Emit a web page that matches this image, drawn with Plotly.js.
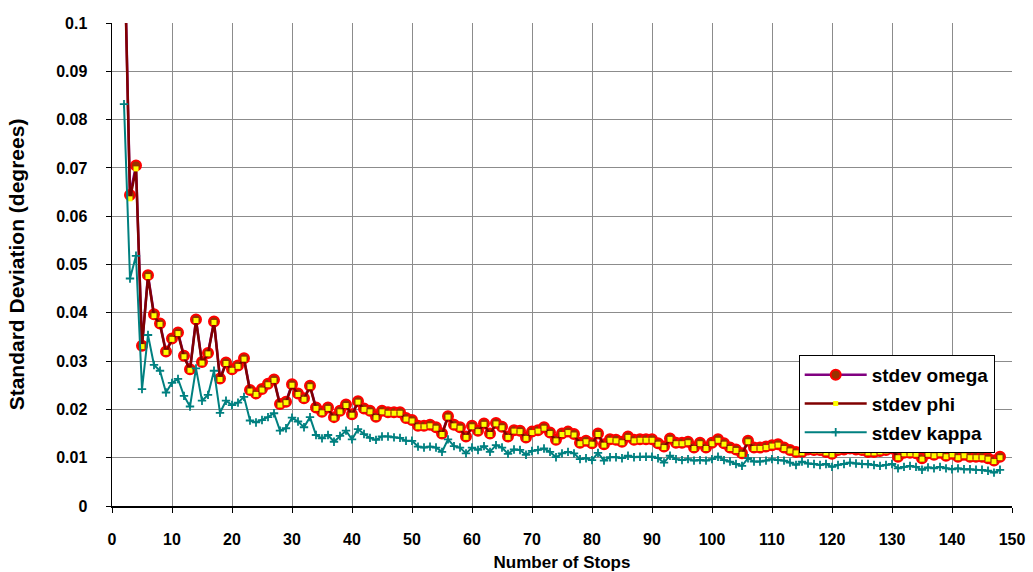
<!DOCTYPE html>
<html>
<head>
<meta charset="utf-8">
<script src="https://cdn.plot.ly/plotly-3.0.1.min.js"></script>
<style>
html,body{margin:0;padding:0;background:#fff;}
#chart{width:1033px;height:572px;}
</style>
</head>
<body>
<div id="chart"></div>
<script>
// Number of stops (x), 2..148
const stops = [];
for (let s = 2; s <= 148; s++) stops.push(s);

const stdevOmega = [
0.1200,0.0644,0.0705,0.0332,0.0478,0.0397,0.0378,0.0320,0.0347,
0.0359,0.0311,0.0283,0.0386,0.0298,0.0317,0.0382,0.0264,0.0297,0.0283,
0.0291,0.0306,0.0240,0.0233,0.0242,0.0253,0.0262,0.0211,0.0216,0.0252,
0.0233,0.0223,0.0249,0.0204,0.0195,0.0204,0.0184,0.0197,0.0210,0.0190,
0.0217,0.0202,0.0197,0.0185,0.0197,0.0194,0.0194,0.0194,0.0182,0.0178,
0.0166,0.0166,0.0168,0.0163,0.0150,0.0186,0.0168,0.0163,0.0144,0.0166,
0.0156,0.0171,0.0150,0.0172,0.0164,0.0144,0.0157,0.0156,0.0142,0.0154,
0.0157,0.0163,0.0152,0.0137,0.0150,0.0154,0.0149,0.0131,0.0135,0.0130,
0.0150,0.0128,0.0138,0.0137,0.0133,0.0144,0.0137,0.0138,0.0138,0.0138,
0.0130,0.0123,0.0140,0.0131,0.0131,0.0133,0.0121,0.0131,0.0121,0.0131,
0.0138,0.0130,0.0121,0.0117,0.0109,0.0135,0.0121,0.0121,0.0123,0.0126,
0.0128,0.0121,0.0116,0.0112,0.0112,0.0117,0.0116,0.0116,0.0112,0.0108,
0.0116,0.0117,0.0119,0.0117,0.0116,0.0112,0.0112,0.0114,0.0116,0.0119,
0.0102,0.0110,0.0110,0.0109,0.0099,0.0109,0.0106,0.0110,0.0104,0.0108,
0.0102,0.0106,0.0102,0.0102,0.0102,0.0099,0.0094,0.0102
];

const stdevPhi = [
0.1190,0.0636,0.0698,0.0330,0.0475,0.0394,0.0376,0.0318,0.0345,
0.0357,0.0309,0.0281,0.0384,0.0296,0.0315,0.0380,0.0262,0.0295,0.0281,
0.0289,0.0304,0.0238,0.0231,0.0240,0.0251,0.0260,0.0209,0.0214,0.0250,
0.0231,0.0221,0.0247,0.0202,0.0193,0.0202,0.0182,0.0195,0.0208,0.0188,
0.0215,0.0200,0.0195,0.0183,0.0195,0.0192,0.0192,0.0192,0.0180,0.0176,
0.0164,0.0164,0.0166,0.0161,0.0148,0.0184,0.0166,0.0161,0.0142,0.0164,
0.0154,0.0169,0.0148,0.0170,0.0162,0.0142,0.0155,0.0154,0.0140,0.0152,
0.0155,0.0161,0.0150,0.0135,0.0148,0.0152,0.0147,0.0129,0.0133,0.0128,
0.0148,0.0126,0.0136,0.0135,0.0131,0.0142,0.0135,0.0136,0.0136,0.0136,
0.0128,0.0121,0.0138,0.0129,0.0129,0.0131,0.0119,0.0129,0.0119,0.0129,
0.0136,0.0128,0.0119,0.0115,0.0107,0.0133,0.0119,0.0119,0.0121,0.0124,
0.0126,0.0119,0.0114,0.0110,0.0110,0.0115,0.0114,0.0114,0.0110,0.0106,
0.0114,0.0115,0.0117,0.0115,0.0114,0.0110,0.0110,0.0112,0.0114,0.0117,
0.0100,0.0108,0.0108,0.0107,0.0097,0.0107,0.0104,0.0108,0.0102,0.0106,
0.0100,0.0104,0.0100,0.0100,0.0100,0.0097,0.0092,0.0100
];

const stdevKappa = [
0.0832,0.0471,0.0518,0.0242,0.0354,0.0292,0.0280,0.0235,0.0255,
0.0263,0.0228,0.0206,0.0285,0.0218,0.0230,0.0280,0.0193,0.0218,0.0209,
0.0214,0.0226,0.0177,0.0173,0.0178,0.0184,0.0192,0.0156,0.0161,0.0183,
0.0175,0.0163,0.0184,0.0147,0.0140,0.0147,0.0133,0.0145,0.0156,0.0138,
0.0159,0.0149,0.0141,0.0137,0.0144,0.0144,0.0142,0.0141,0.0135,0.0135,
0.0123,0.0121,0.0123,0.0121,0.0112,0.0138,0.0124,0.0121,0.0109,0.0121,
0.0116,0.0124,0.0112,0.0126,0.0121,0.0108,0.0117,0.0116,0.0106,0.0114,
0.0116,0.0119,0.0112,0.0101,0.0109,0.0112,0.0109,0.0097,0.0099,0.0095,
0.0110,0.0094,0.0101,0.0101,0.0099,0.0104,0.0101,0.0102,0.0102,0.0102,
0.0099,0.0090,0.0104,0.0097,0.0095,0.0097,0.0094,0.0095,0.0094,0.0097,
0.0102,0.0095,0.0092,0.0087,0.0083,0.0099,0.0092,0.0092,0.0094,0.0097,
0.0095,0.0094,0.0090,0.0085,0.0092,0.0088,0.0087,0.0085,0.0087,0.0081,
0.0085,0.0087,0.0090,0.0088,0.0087,0.0087,0.0085,0.0083,0.0085,0.0087,
0.0078,0.0081,0.0083,0.0081,0.0075,0.0080,0.0078,0.0081,0.0078,0.0076,
0.0078,0.0076,0.0076,0.0075,0.0075,0.0073,0.0069,0.0075
];

const seriesNames = ['stdev omega', 'stdev phi', 'stdev kappa'];
const xTickVals = [0,10,20,30,40,50,60,70,80,90,100,110,120,130,140,150];
const yTickVals = [0,0.01,0.02,0.03,0.04,0.05,0.06,0.07,0.08,0.09,0.1];
const yTickText = ['0','0.01','0.02','0.03','0.04','0.05','0.06','0.07','0.08','0.09','0.1'];

const FONT = 'Liberation Sans, Arial, sans-serif';

const traces = [
  {
    x: stops, y: stdevOmega, name: seriesNames[0], type: 'scatter', mode: 'lines+markers',
    legendgroup: 'a',
    line: {color: '#800080', width: 2.5},
    marker: {symbol: 'circle', size: 10, color: '#993300', line: {color: '#ff0000', width: 2}},
    cliponaxis: true
  },
  {
    x: stops, y: stdevPhi, name: seriesNames[1], type: 'scatter', mode: 'lines+markers',
    legendgroup: 'b',
    line: {color: '#800000', width: 2.5},
    marker: {symbol: 'square', size: 5, color: '#ffff00', line: {width: 0}},
    cliponaxis: true
  },
  {
    x: stops, y: stdevKappa, name: seriesNames[2], type: 'scatter', mode: 'lines+markers',
    legendgroup: 'c',
    line: {color: '#008080', width: 2},
    marker: {symbol: 'cross-thin', size: 6, color: '#008080', line: {color: '#008080', width: 1.8}},
    cliponaxis: true
  }
];

const layout = {
  width: 1033, height: 572,
  margin: {l: 112, r: 21, t: 23, b: 66, pad: 0},
  paper_bgcolor: '#ffffff', plot_bgcolor: '#ffffff',
  font: {family: FONT, size: 16, color: '#000'},
  showlegend: true,
  legend: {
    x: 0.763, y: 0.3126, xanchor: 'left', yanchor: 'top',
    bgcolor: '#ffffff', bordercolor: '#000000', borderwidth: 1,
    font: {family: FONT, size: 19, weight: 'bold', color: '#000'},
    traceorder: 'grouped', tracegroupgap: 1, itemwidth: 62
  },
  xaxis: {
    range: [0, 150], tickvals: xTickVals, ticktext: xTickVals.map(String),
    showgrid: true, gridcolor: '#8c8c8c', gridwidth: 1,
    showline: true, linecolor: '#000', linewidth: 1.5,
    ticks: 'outside', ticklen: 5, tickcolor: '#000',
    ticklabelstandoff: 13,
    tickfont: {family: FONT, size: 16, weight: 'bold'},
    zeroline: false,
    title: {text: 'Number of Stops', font: {family: FONT, size: 17, weight: 'bold'}, standoff: 9}
  },
  yaxis: {
    range: [0, 0.1], tickvals: yTickVals, ticktext: yTickText,
    showgrid: true, gridcolor: '#8c8c8c', gridwidth: 1,
    showline: true, linecolor: '#000', linewidth: 1.5,
    ticks: 'outside', ticklen: 5, tickcolor: '#000',
    ticklabelstandoff: 15,
    tickfont: {family: FONT, size: 16, weight: 'bold'},
    zeroline: false,
    title: {text: 'Standard Deviation (degrees)', font: {family: FONT, size: 21, weight: 'bold'}, standoff: 26}
  }
};

Plotly.newPlot('chart', traces, layout, {displayModeBar: false, staticPlot: true});
</script>
</body>
</html>
